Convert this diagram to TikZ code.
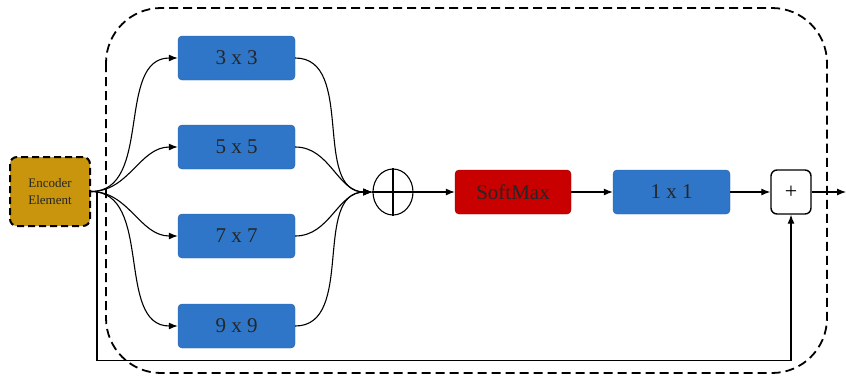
\documentclass[tikz,border=0pt]{standalone}
\usepackage{fontspec}
\setmainfont{Liberation Serif}
\usetikzlibrary{arrows.meta,shapes.geometric}
\definecolor{boxblue}{HTML}{2F76C8}
\definecolor{boxblueedge}{HTML}{2A5E9A}
\definecolor{sred}{HTML}{C80000}
\definecolor{gold}{HTML}{C9950C}
\tikzset{
  conv/.style={draw=boxblueedge, fill=boxblue, rounded corners=4pt, minimum width=117pt, minimum height=44pt, font=\fontsize{21}{24}\selectfont, text=black!85, inner sep=0pt},
  arr/.style={-{Latex[length=9pt,width=7pt]}, line width=1.1pt},
  ln/.style={line width=1.1pt},
}
\begin{document}
\begin{tikzpicture}[x=1pt,y=-1pt]
\useasboundingbox (0,0) rectangle (846,376);
% outer dashed region
\draw[dashed, line width=1.8pt, dash pattern=on 9pt off 5pt, rounded corners=55pt] (106,8) rectangle (827,373);
% encoder
\node[draw, dashed, line width=2pt, dash pattern=on 7pt off 4pt, fill=gold, rounded corners=7pt, minimum width=80pt, minimum height=69pt, align=center, font=\fontsize{13}{17}\selectfont, inner sep=0pt, text=black!85] (enc) at (50,191.5) {Encoder\\Element};
% branches
\node[conv] (b3) at (236.5,58) {3 x 3};
\node[conv] (b5) at (236.5,147) {5 x 5};
\node[conv] (b7) at (236.5,236) {7 x 7};
\node[conv] (b9) at (236.5,326) {9 x 9};
% sum
\node[draw, ellipse, line width=1.1pt, minimum width=40pt, minimum height=46pt, inner sep=0pt] (sum) at (393,192) {};
\draw[ln] (sum.north) -- (sum.south);
\draw[ln] (sum.west) -- (sum.east);
% softmax, 1x1, plus
\node[draw=sred!70!black, fill=sred, rounded corners=4pt, minimum width=116pt, minimum height=44pt, font=\fontsize{21}{24}\selectfont, text=black!85, inner sep=0pt] (sm) at (513,192) {SoftMax};
\node[conv] (c1) at (671.5,192) {1 x 1};
\node[draw, line width=1.4pt, fill=white, rounded corners=6pt, minimum width=40pt, minimum height=44pt, font=\fontsize{22}{24}\selectfont, inner sep=0pt] (plus) at (791,192) {+};
\coordinate (out) at (846,192);
% connectors
\foreach \b in {b3,b5,b7,b9}{
  \draw[arr] (enc.east) to[out=0,in=180] (\b.west);
  \draw[arr] (\b.east) to[out=0,in=180] (sum.west);
}
\draw[arr] (sum.east) -- (sm.west);
\draw[arr] (sm.east) -- (c1.west);
\draw[arr] (c1.east) -- (plus.west);
\draw[arr] (plus.east) -- (out);
\draw[arr] (enc.east) -- ++(6,0) -- ++(0,169) -| (plus.south);
\end{tikzpicture}
\end{document}
